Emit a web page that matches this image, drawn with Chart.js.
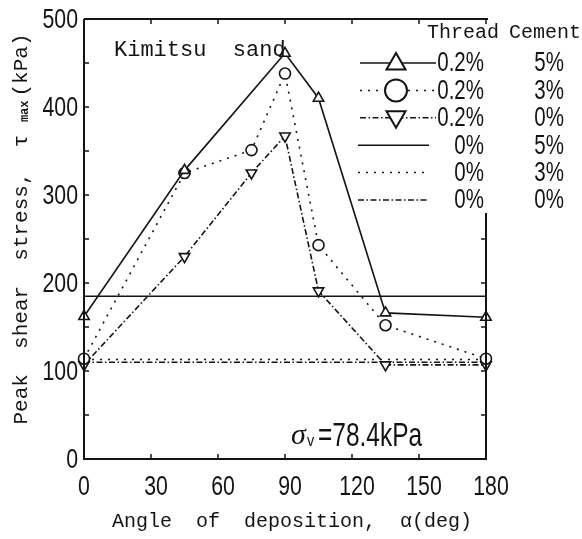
<!DOCTYPE html>
<html>
<head>
<meta charset="utf-8">
<script src="https://cdn.jsdelivr.net/npm/chart.js@4.4.1/dist/chart.umd.min.js"></script>
<style>
  html, body { margin: 0; padding: 0; background: #fff; }
  #wrap { width: 582px; height: 539px; }
</style>
</head>
<body>
<div id="wrap"><canvas id="shearChart" width="582" height="539"></canvas></div>
<script>
// Kimitsu sand: peak shear stress vs angle of deposition
const anglesTri = [0, 45, 90, 105, 135, 180];
const tauThread5 = [162, 328, 461, 410, 166, 161];
const anglesAll = [0, 45, 75, 90, 105, 135, 180];
const tauThread3 = [114, 325, 351, 438, 243, 152, 114];
const tauThread0 = [107, 230, 325, 367, 191, 107, 107];
const plainAngles = [0, 180];
const tauPlain = [185, 113, 110]; // no thread, cement 5% / 3% / 0%

const threadLabels = ['0.2%', '0.2%', '0.2%', '0%', '0%', '0%'];
const cementLabels = ['5%', '3%', '0%', '5%', '3%', '0%'];
const xTicks = [0, 30, 60, 90, 120, 150, 180];
const yMinorTicks = [0, 50, 100, 150, 200, 250, 300, 350, 400, 450, 500];

const INK = '#141414';
const NUM_FONT = '"Liberation Sans", Arial, sans-serif';
const TXT_FONT = '"Liberation Mono", "DejaVu Sans Mono", monospace';
const DOT = [2, 6];
const DASHDOT = [6, 2.5, 1.5, 2.5];

const pts = (xs, ys) => xs.map((x, i) => ({ x: x, y: ys[i] }));
const flat = (v) => plainAngles.map(x => ({ x: x, y: v }));

// condensed digits like the scanned figure
function narrowText(ctx, text, x, y, align, size, sx) {
    ctx.save();
    ctx.font = size + 'px ' + NUM_FONT;
    ctx.textBaseline = 'middle';
    ctx.textAlign = align;
    ctx.translate(x, y);
    ctx.scale(sx || 0.76, 1);
    ctx.fillText(text, 0, 0);
    ctx.restore();
}

function drawMarker(ctx, style, rot, r, x, y) {
    ctx.beginPath();
    if (style === 'circle') {
        ctx.arc(x, y, r, 0, Math.PI * 2);
    } else {
        let a = rot * Math.PI / 180;
        for (let k = 0; k < 3; k++) {
            const px = x + Math.sin(a) * r, py = y - Math.cos(a) * r;
            if (k === 0) ctx.moveTo(px, py); else ctx.lineTo(px, py);
            a += Math.PI * 2 / 3;
        }
        ctx.closePath();
    }
    ctx.fillStyle = '#fff';
    ctx.fill();
    ctx.stroke();
}

const framePlugin = {
    id: 'frame',
    afterDraw(chart) {
        const ctx = chart.ctx;
        const a = chart.chartArea;
        const xs = chart.scales.x, ys = chart.scales.y;
        const rightTop = 213; // legend covers the upper part of the right border
        ctx.save();
        ctx.strokeStyle = INK;
        ctx.fillStyle = INK;
        ctx.setLineDash([]);
        ctx.lineWidth = 2;
        ctx.beginPath();
        ctx.moveTo(a.left, a.top); ctx.lineTo(a.left, a.bottom);
        ctx.lineTo(a.right, a.bottom); ctx.lineTo(a.right, rightTop);
        ctx.moveTo(a.left, a.top); ctx.lineTo(a.right + 2, a.top);
        ctx.stroke();
        // inward ticks
        ctx.lineWidth = 1.5;
        ctx.beginPath();
        xTicks.forEach(v => {
            const px = xs.getPixelForValue(v);
            ctx.moveTo(px, a.bottom); ctx.lineTo(px, a.bottom - 5);
            ctx.moveTo(px, a.top); ctx.lineTo(px, a.top + 5);
        });
        yMinorTicks.forEach(v => {
            const py = ys.getPixelForValue(v);
            ctx.moveTo(a.left, py); ctx.lineTo(a.left + 5, py);
            if (py > rightTop) { ctx.moveTo(a.right, py); ctx.lineTo(a.right - 5, py); }
        });
        ctx.stroke();

        // tick labels from the library's scales
        xs.ticks.forEach(t => narrowText(ctx, String(t.value), xs.getPixelForValue(t.value) + (t.value ? 5 : 0), 487, 'center', 28));
        ys.ticks.forEach(t => narrowText(ctx, String(t.value), a.left - 6, ys.getPixelForValue(t.value) + 1, 'right', 28));

        // axis titles
        ctx.textBaseline = 'middle';
        ctx.textAlign = 'center';
        ctx.font = '20px ' + TXT_FONT;
        ctx.fillText('Angle  of  deposition,  \u03b1(deg)', 292, 522);

        ctx.translate(21, 229);
        ctx.rotate(-Math.PI / 2);
        ctx.textAlign = 'left';
        const main = 'Peak  shear  stress,  \u03c4 ';
        const sub = 'max';
        const tail = '(kPa)';
        ctx.font = '21px ' + TXT_FONT;
        const w1 = ctx.measureText(main).width, w3 = ctx.measureText(tail).width;
        ctx.font = 'bold 12px ' + TXT_FONT;
        const w2 = ctx.measureText(sub).width + 4;
        const x0 = -(w1 + w2 + w3) / 2;
        ctx.font = '21px ' + TXT_FONT;
        ctx.fillText(main, x0, 0);
        ctx.font = 'bold 12px ' + TXT_FONT;
        ctx.fillText(sub, x0 + w1, 4);
        ctx.font = '21px ' + TXT_FONT;
        ctx.fillText(tail, x0 + w1 + w2, 0);
        ctx.restore();

        // annotations
        ctx.save();
        ctx.fillStyle = INK;
        ctx.textBaseline = 'middle';
        ctx.textAlign = 'left';
        ctx.font = '22px ' + TXT_FONT;
        ctx.fillText('Kimitsu  sand', 114, 50);
        ctx.font = 'italic 30px "Liberation Serif", serif';
        ctx.fillText('\u03c3', 291, 436);
        narrowText(ctx, 'v', 307, 441, 'left', 17, 0.85);
        narrowText(ctx, '=78.4kPa', 318, 437, 'left', 34, 0.72);
        ctx.restore();

        // legend table
        ctx.save();
        ctx.fillStyle = INK;
        ctx.strokeStyle = INK;
        ctx.textBaseline = 'middle';
        ctx.font = '20px ' + TXT_FONT;
        ctx.textAlign = 'left';
        ctx.fillText('Thread', 427, 33);
        ctx.fillText('Cement', 509, 33);
        chart.data.datasets.forEach((ds, i) => {
            const y = 63 + i * 27.4;
            const marked = ds.pointRadius > 0;
            const x1 = marked ? 360 : 358, x2 = marked ? 436 : 429;
            ctx.lineWidth = 1.5;
            ctx.setLineDash(ds.borderDash || []);
            ctx.beginPath();
            ctx.moveTo(x1, y); ctx.lineTo(x2, y);
            ctx.stroke();
            if (marked) {
                ctx.setLineDash([]);
                ctx.lineWidth = 2;
                const dy = ds.pointStyle === 'circle' ? 0 : (ds.pointRotation ? -1 : 1);
                drawMarker(ctx, ds.pointStyle, ds.pointRotation || 0, 11, 396, y + dy);
                ctx.fillStyle = INK;
            }
            narrowText(ctx, threadLabels[i], 484, y + 1, 'right', 27);
            narrowText(ctx, cementLabels[i], 564, y + 1, 'right', 27);
        });
        ctx.restore();
    }
};

const lineBase = {
    borderColor: INK,
    borderWidth: 1.6,
    pointBorderColor: INK,
    pointBackgroundColor: '#fff',
    pointBorderWidth: 1.6,
    showLine: true,
    clip: false,
    tension: 0
};

const config = {
    type: 'scatter',
    data: {
        datasets: [
            Object.assign({}, lineBase, { label: '0.2% / 5%', data: pts(anglesTri, tauThread5), pointStyle: 'triangle', pointRadius: 6 }),
            Object.assign({}, lineBase, { label: '0.2% / 3%', data: pts(anglesAll, tauThread3), borderDash: DOT, pointStyle: 'circle', pointRadius: 5.5 }),
            Object.assign({}, lineBase, { label: '0.2% / 0%', data: pts(anglesAll, tauThread0), borderDash: DASHDOT, pointStyle: 'triangle', pointRotation: 180, pointRadius: 6 }),
            Object.assign({}, lineBase, { label: '0% / 5%', data: flat(tauPlain[0]), pointRadius: 0 }),
            Object.assign({}, lineBase, { label: '0% / 3%', data: flat(tauPlain[1]), borderDash: DOT, pointRadius: 0 }),
            Object.assign({}, lineBase, { label: '0% / 0%', data: flat(tauPlain[2]), borderDash: DASHDOT, pointRadius: 0 })
        ]
    },
    options: {
        responsive: false,
        animation: false,
        events: [],
        layout: { padding: { top: 19, right: 96, left: 0, bottom: 0 } },
        plugins: { legend: { display: false }, tooltip: { enabled: false } },
        scales: {
            x: {
                type: 'linear',
                min: 0, max: 180,
                afterBuildTicks: (s) => { s.ticks = xTicks.map(v => ({ value: v })); },
                afterFit: (s) => { s.height = 80; },
                grid: { display: false },
                border: { display: false },
                ticks: { display: false }
            },
            y: {
                min: 0, max: 500,
                afterBuildTicks: (s) => { s.ticks = yMinorTicks.filter(v => v % 100 === 0).map(v => ({ value: v })); },
                afterFit: (s) => { s.width = 84; },
                grid: { display: false },
                border: { display: false },
                ticks: { display: false }
            }
        }
    },
    plugins: [framePlugin]
};

const shearChart = new Chart(document.getElementById('shearChart').getContext('2d'), config);
</script>
</body>
</html>
